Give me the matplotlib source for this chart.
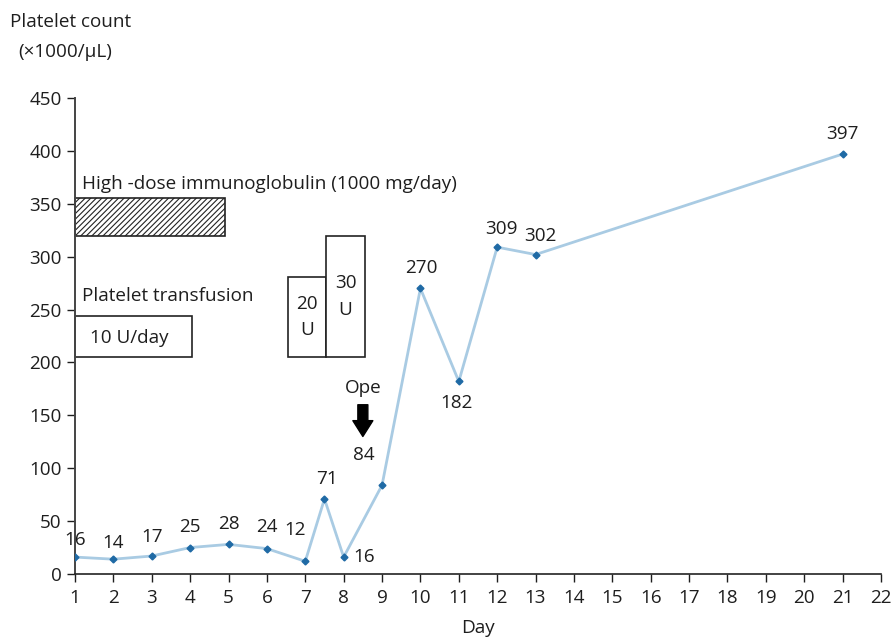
import numpy as np
import matplotlib.pyplot as plt
from matplotlib.patches import Rectangle, FancyArrowPatch

plt.rcParams['font.family'] = ['Open Sans', 'DejaVu Sans']
plt.rcParams['hatch.linewidth'] = 0.8

# platelet counts per hospital day
days = [1, 2, 3, 4, 5, 6, 7, 7.5, 8, 9, 10, 11, 12, 13, 21]
counts = [16, 14, 17, 25, 28, 24, 12, 71, 16, 84, 270, 182, 309, 302, 397]
# label offsets in pixels (dx, dy)
label_offsets = [(0, 17), (0, 16), (0, 19), (0, 21), (0, 20), (0, 22), (-10, 31),
                 (2, 20), (20, 0), (-18, 30), (1, 20), (-2, -22), (4, 18), (5, 19),
                 (0, 20)]

ivig_days = (1, 4.9)
ivig_range = (320, 355)
transfusions = [  # (start, end, top, label)
    (1, 4.05, 244, "10 U/day"),
    (6.55, 7.55, 281, "20\nU"),
    (7.55, 8.55, 320, "30\nU"),
]
transfusion_base = 205
ope_day = 8.5

FS = 13.6
TXT = '#1e1e1e'

fig = plt.figure(figsize=(8.94, 6.38), dpi=100)
ax = fig.add_axes([75 / 894, 1 - 574 / 638, (881 - 75) / 894, (574 - 98) / 638])

ax.plot(days, counts, color='#a9cbe3', lw=2, zorder=2)
ax.plot(days, counts, ls='none', marker='D', ms=3.5, color='#1f6aa5', zorder=3)

for d, c, (dx, dy) in zip(days, counts, label_offsets):
    ax.annotate(str(c), (d, c), xytext=(dx, dy), textcoords='offset pixels',
                ha='center', va='center', fontsize=FS, color=TXT)

# immunoglobulin bar
ax.add_patch(Rectangle((ivig_days[0], ivig_range[0]), ivig_days[1] - ivig_days[0],
                       ivig_range[1] - ivig_range[0], facecolor='white',
                       edgecolor='#222222', hatch='//////', lw=1.2, clip_on=False))
ax.text(1.18, 369, "High -dose immunoglobulin (1000 mg/day)", ha='left', va='center',
        fontsize=FS, color=TXT)

# transfusion boxes
ax.text(1.18, 263, "Platelet transfusion", ha='left', va='center', fontsize=FS,
        color=TXT)
for x0, x1, top, lab in transfusions:
    ax.add_patch(Rectangle((x0, transfusion_base), x1 - x0, top - transfusion_base,
                           facecolor='white', edgecolor='#222222', lw=1.2, clip_on=False))
    if '\n' in lab:
        ax.text((x0 + x1) / 2, (transfusion_base + top) / 2, lab, ha='center',
                va='center', fontsize=FS, color=TXT, linespacing=1.6)
    else:
        ax.text(1.39, 223, lab, ha='left', va='center', fontsize=FS, color=TXT)

# operation marker
ax.text(ope_day, 176, "Ope", ha='center', va='center', fontsize=FS, color=TXT)
arrow = FancyArrowPatch((ope_day, 160), (ope_day, 130),
                        arrowstyle='simple,head_length=0.95,head_width=1.2,tail_width=0.6',
                        mutation_scale=12, color='black', shrinkA=0, shrinkB=0)
ax.add_patch(arrow)

ax.set_xlim(1, 22)
ax.set_ylim(0, 450)
ax.set_xticks(np.arange(1, 23))
ax.set_yticks(np.arange(0, 451, 50))
ax.tick_params(direction='out', length=6, width=1, labelsize=FS, colors=TXT)
ax.tick_params(axis='x', pad=5)
for s in ['top', 'right']:
    ax.spines[s].set_visible(False)
ax.spines['left'].set_color('#444444')
ax.spines['left'].set_linewidth(1.4)
ax.spines['bottom'].set_color('#222222')
ax.spines['bottom'].set_linewidth(1.2)

fig.text(10 / 894, 1 - 22 / 638, "Platelet count", ha='left', va='center',
         fontsize=FS, color=TXT)
fig.text(18 / 894, 1 - 52 / 638, "(×1000/μL)", ha='left', va='center',
         fontsize=FS, color=TXT)
fig.text(478 / 894, 1 - 628 / 638, "Day", ha='center', va='center', fontsize=FS,
         color=TXT)

fig.savefig('out.png', dpi=100)
